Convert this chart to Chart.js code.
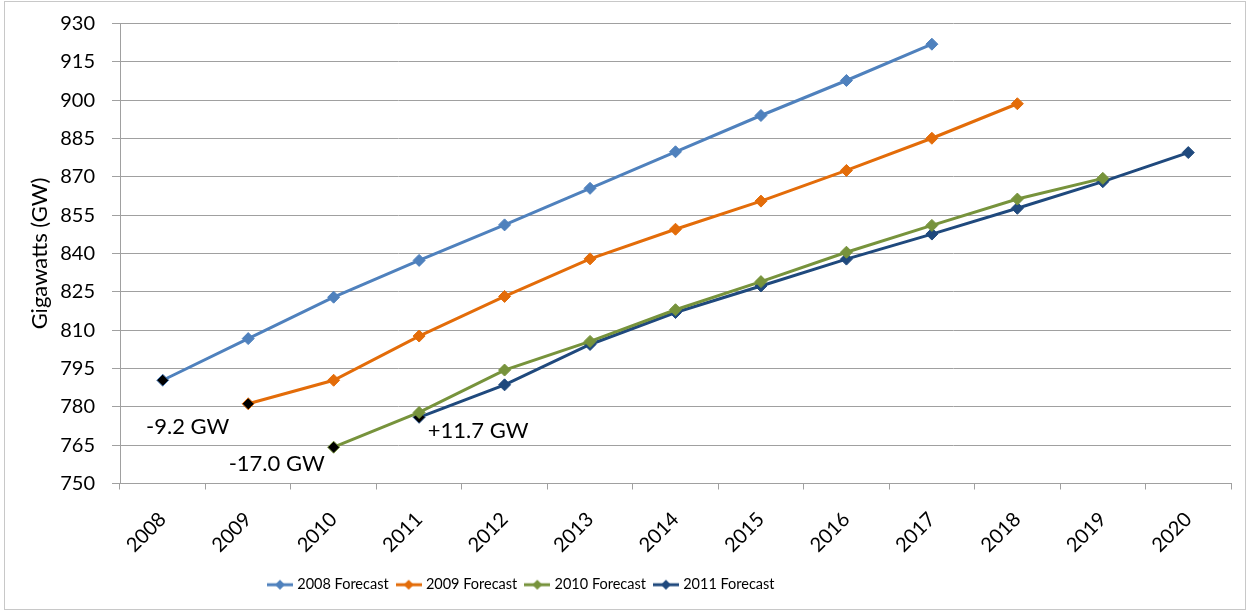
<!DOCTYPE html>
<html>
<head>
<meta charset="utf-8">
<script src="https://cdn.jsdelivr.net/npm/chart.js@4/dist/chart.umd.min.js"></script>
<style>
  html, body { margin: 0; padding: 0; background: #fff; }
</style>
</head>
<body>
<canvas id="forecastChart" width="1248" height="611"></canvas>
<script>
// Peak demand forecasts, one line per forecast year
const years = ['2008', '2009', '2010', '2011', '2012', '2013', '2014', '2015', '2016', '2017', '2018', '2019', '2020'];
const forecast2008 = [790.4, 806.7, 822.9, 837.3, 851.2, 865.5, 879.8, 894.0, 907.7, 921.9, null, null, null];
const forecast2009 = [null, 781.2, 790.4, 807.7, 823.2, 837.9, 849.5, 860.5, 872.5, 885.1, 898.6, null, null];
const forecast2010 = [null, null, 764.2, 777.8, 794.4, 805.6, 818.0, 829.0, 840.5, 851.0, 861.3, 869.4, null];
const forecast2011 = [null, null, null, 775.9, 788.6, 804.4, 816.9, 827.3, 837.8, 847.6, 857.7, 868.1, 879.5];
const seriesNames = ['2008 Forecast', '2009 Forecast', '2010 Forecast', '2011 Forecast'];
const yTicks = [750, 765, 780, 795, 810, 825, 840, 855, 870, 885, 900, 915, 930];

// Change notes next to the first point of a forecast
const noteLabels = ['-9.2 GW', '-17.0 GW', '+11.7 GW'];
const noteSeries = [0, 2, 3];
const noteYears = ['2008', '2010', '2011'];

const colors = ['#4F81BD', '#E36C09', '#77933C', '#1F497D'];
const FONT = 'Lato, "Open Sans", sans-serif';

// legend sample: short line with a diamond in the middle
function legendIcon(color) {
    const c = document.createElement('canvas');
    c.width = 26; c.height = 12;
    const g = c.getContext('2d');
    g.strokeStyle = color;
    g.lineWidth = 3;
    g.beginPath(); g.moveTo(0, 6); g.lineTo(26, 6); g.stroke();
    g.fillStyle = color;
    g.beginPath(); g.moveTo(13, 1); g.lineTo(18, 6); g.lineTo(13, 11); g.lineTo(8, 6); g.closePath(); g.fill();
    return c;
}
const icons = colors.map(legendIcon);

function makeSeries(name, values, color) {
    const first = values.findIndex(v => v !== null);
    return {
        label: name,
        data: values,
        borderColor: color,
        backgroundColor: color,
        borderWidth: 3,
        pointStyle: 'rectRot',
        pointRadius: 6,
        pointHoverRadius: 6,
        pointBorderWidth: 1,
        pointBorderColor: color,
        pointBackgroundColor: ctx => ctx.dataIndex === first ? '#000' : color,
        tension: 0
    };
}

const allSeries = [forecast2008, forecast2009, forecast2010, forecast2011];

const notesPlugin = {
    id: 'notes',
    afterDatasetsDraw(chart) {
        const offsets = [[25, 47], [-57, 17], [59, 14]];
        const g = chart.ctx;
        const x = chart.scales.x, y = chart.scales.y;
        g.save();
        g.font = '22px ' + FONT;
        g.fillStyle = '#000';
        g.textAlign = 'center';
        g.textBaseline = 'middle';
        noteLabels.forEach((txt, i) => {
            const idx = years.indexOf(noteYears[i]);
            const v = allSeries[noteSeries[i]][idx];
            const px = x.getPixelForValue(idx) + offsets[i][0];
            const py = y.getPixelForValue(v) + offsets[i][1];
            g.fillText(txt, px, py);
        });
        g.restore();
    }
};

const framePlugin = {
    id: 'frame',
    afterLayout(chart) {
        // keep the legend left of centre, under the middle series
        const lg = chart.legend;
        const w = lg.right - lg.left;
        lg.left = 260;
        lg.right = 260 + w;
    },
    afterDraw(chart) {
        const g = chart.ctx;
        g.save();
        g.strokeStyle = '#c8c8c8';
        g.lineWidth = 1;
        g.strokeRect(4.5, 1.5, 1241, 608);
        g.restore();
    }
};

const ctx = document.getElementById('forecastChart').getContext('2d');
const chart = new Chart(ctx, {
    type: 'line',
    data: {
        labels: years,
        datasets: allSeries.map((s, i) => makeSeries(seriesNames[i], s, colors[i]))
    },
    options: {
        responsive: false,
        animation: false,
        layout: { padding: { top: 23.5, right: 17, bottom: 9, left: 0 } },
        plugins: {
            tooltip: { enabled: false },
            legend: {
                position: 'bottom',
                align: 'start',
                labels: {
                    usePointStyle: true,
                    pointStyleWidth: 20,
                    padding: 10,
                    color: '#000',
                    font: { family: FONT, size: 14.5 },
                    generateLabels(ch) {
                        const items = Chart.defaults.plugins.legend.labels.generateLabels(ch);
                        items.forEach((it, i) => { it.pointStyle = icons[i]; });
                        return items;
                    }
                }
            }
        },
        scales: {
            x: {
                offset: true,
                grid: { drawOnChartArea: false, offset: true, color: '#a0a0a0', tickLength: 6 },
                border: { color: '#a0a0a0', width: 1 },
                ticks: {
                    color: '#000',
                    font: { family: FONT, size: 20 },
                    minRotation: 45,
                    maxRotation: 45,
                    padding: 18
                },
                afterFit(scale) { scale.height = 84; }
            },
            y: {
                min: 750,
                max: 930,
                afterBuildTicks(scale) { scale.ticks = yTicks.map(v => ({ value: v })); },
                grid: { color: '#a0a0a0', tickLength: 8 },
                border: { color: '#a0a0a0', width: 1 },
                ticks: {
                    color: '#000',
                    font: { family: FONT, size: 20 },
                    padding: 17
                },
                title: {
                    display: true,
                    text: 'Gigawatts (GW)',
                    color: '#000',
                    font: { family: FONT, size: 22 },
                    padding: { top: 27, bottom: 0 }
                },
                afterFit(scale) {
                    scale.width = 120;
                    scale.paddingTop = 0;
                    scale.paddingBottom = 0;
                }
            }
        }
    },
    plugins: [notesPlugin, framePlugin]
});
</script>
</body>
</html>
